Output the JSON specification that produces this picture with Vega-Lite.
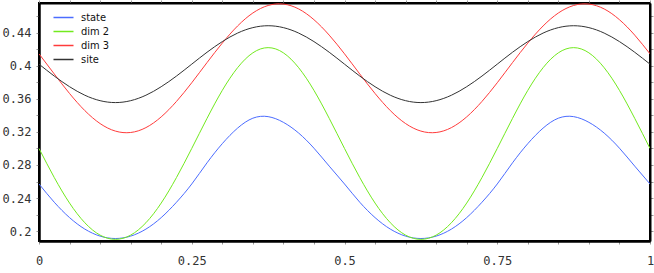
{
  "$schema": "https://vega.github.io/schema/vega-lite/v6.json",
  "width": 611,
  "height": 238,
  "autosize": {"type": "none"},
  "padding": {"left": 39, "top": 3, "right": 4, "bottom": 32},
  "background": "white",
  "config": {
    "view": {"stroke": "black", "strokeWidth": 2},
    "axis": {
      "grid": false,
      "labelFont": "DejaVu Sans Mono",
      "labelFontSize": 12,
      "labelColor": "#333",
      "tickColor": "#999",
      "tickSize": 3,
      "domainColor": "black",
      "title": null
    }
  },
  "data": {
    "values": [
      {"x": 0, "state": 0.257, "dim 2": 0.300, "dim 3": 0.4145, "site": 0.402},
      {"x": 0.025, "state": 0.2349, "dim 2": 0.2648, "dim 3": 0.3901, "site": 0.3876},
      {"x": 0.05, "state": 0.2163, "dim 2": 0.2339, "dim 3": 0.3665, "site": 0.3747},
      {"x": 0.075, "state": 0.2024, "dim 2": 0.2101, "dim 3": 0.3458, "site": 0.3644},
      {"x": 0.1, "state": 0.1939, "dim 2": 0.1951, "dim 3": 0.3301, "site": 0.3578},
      {"x": 0.125, "state": 0.191, "dim 2": 0.190, "dim 3": 0.3210, "site": 0.3555},
      {"x": 0.15, "state": 0.1939, "dim 2": 0.1951, "dim 3": 0.3193, "site": 0.3578},
      {"x": 0.175, "state": 0.2024, "dim 2": 0.2101, "dim 3": 0.3252, "site": 0.3644},
      {"x": 0.2, "state": 0.2163, "dim 2": 0.2339, "dim 3": 0.3382, "site": 0.3747},
      {"x": 0.225, "state": 0.2349, "dim 2": 0.2648, "dim 3": 0.3569, "site": 0.3876},
      {"x": 0.25, "state": 0.257, "dim 2": 0.300, "dim 3": 0.3795, "site": 0.402},
      {"x": 0.275, "state": 0.2826, "dim 2": 0.3364, "dim 3": 0.4039, "site": 0.4164},
      {"x": 0.3, "state": 0.3058, "dim 2": 0.3703, "dim 3": 0.4275, "site": 0.4293},
      {"x": 0.325, "state": 0.3246, "dim 2": 0.3977, "dim 3": 0.4482, "site": 0.4396},
      {"x": 0.35, "state": 0.3366, "dim 2": 0.4157, "dim 3": 0.4639, "site": 0.4462},
      {"x": 0.375, "state": 0.3385, "dim 2": 0.422, "dim 3": 0.4730, "site": 0.4485},
      {"x": 0.4, "state": 0.3316, "dim 2": 0.4157, "dim 3": 0.4747, "site": 0.4462},
      {"x": 0.425, "state": 0.3186, "dim 2": 0.3977, "dim 3": 0.4688, "site": 0.4396},
      {"x": 0.45, "state": 0.3003, "dim 2": 0.3703, "dim 3": 0.4558, "site": 0.4293},
      {"x": 0.475, "state": 0.2786, "dim 2": 0.3364, "dim 3": 0.4371, "site": 0.4164},
      {"x": 0.5, "state": 0.257, "dim 2": 0.300, "dim 3": 0.4145, "site": 0.402},
      {"x": 0.525, "state": 0.2349, "dim 2": 0.2648, "dim 3": 0.3901, "site": 0.3876},
      {"x": 0.55, "state": 0.2163, "dim 2": 0.2339, "dim 3": 0.3665, "site": 0.3747},
      {"x": 0.575, "state": 0.2024, "dim 2": 0.2101, "dim 3": 0.3458, "site": 0.3644},
      {"x": 0.6, "state": 0.1939, "dim 2": 0.1951, "dim 3": 0.3301, "site": 0.3578},
      {"x": 0.625, "state": 0.191, "dim 2": 0.190, "dim 3": 0.3210, "site": 0.3555},
      {"x": 0.65, "state": 0.1939, "dim 2": 0.1951, "dim 3": 0.3193, "site": 0.3578},
      {"x": 0.675, "state": 0.2024, "dim 2": 0.2101, "dim 3": 0.3252, "site": 0.3644},
      {"x": 0.7, "state": 0.2163, "dim 2": 0.2339, "dim 3": 0.3382, "site": 0.3747},
      {"x": 0.725, "state": 0.2349, "dim 2": 0.2648, "dim 3": 0.3569, "site": 0.3876},
      {"x": 0.75, "state": 0.257, "dim 2": 0.300, "dim 3": 0.3795, "site": 0.402},
      {"x": 0.775, "state": 0.2826, "dim 2": 0.3364, "dim 3": 0.4039, "site": 0.4164},
      {"x": 0.8, "state": 0.3058, "dim 2": 0.3703, "dim 3": 0.4275, "site": 0.4293},
      {"x": 0.825, "state": 0.3246, "dim 2": 0.3977, "dim 3": 0.4482, "site": 0.4396},
      {"x": 0.85, "state": 0.3366, "dim 2": 0.4157, "dim 3": 0.4639, "site": 0.4462},
      {"x": 0.875, "state": 0.3385, "dim 2": 0.422, "dim 3": 0.4730, "site": 0.4485},
      {"x": 0.9, "state": 0.3316, "dim 2": 0.4157, "dim 3": 0.4747, "site": 0.4462},
      {"x": 0.925, "state": 0.3186, "dim 2": 0.3977, "dim 3": 0.4688, "site": 0.4396},
      {"x": 0.95, "state": 0.3003, "dim 2": 0.3703, "dim 3": 0.4558, "site": 0.4293},
      {"x": 0.975, "state": 0.2786, "dim 2": 0.3364, "dim 3": 0.4371, "site": 0.4164},
      {"x": 1, "state": 0.257, "dim 2": 0.300, "dim 3": 0.4145, "site": 0.402}
    ]
  },
  "transform": [
    {"fold": ["state", "dim 2", "dim 3", "site"], "as": ["series", "v"]}
  ],
  "layer": [
    {
      "mark": {"type": "line", "interpolate": "natural", "strokeWidth": 1, "clip": true},
      "encoding": {
        "x": {
          "field": "x", "type": "quantitative",
          "scale": {"domain": [0, 1], "nice": false, "zero": false},
          "axis": {
            "orient": "bottom",
            "values": [0, 0.05, 0.1, 0.15, 0.2, 0.25, 0.3, 0.35, 0.4, 0.45, 0.5, 0.55, 0.6, 0.65, 0.7, 0.75, 0.8, 0.85, 0.9, 0.95, 1],
            "format": ".2~f",
            "labelExpr": "round(datum.value*100) % 25 == 0 ? datum.label : ''",
            "labelPadding": 11,
            "labelFlush": false,
            "domainWidth": 2.5
          }
        },
        "y": {
          "field": "v", "type": "quantitative",
          "scale": {"domain": [0.188, 0.476], "nice": false, "zero": false},
          "axis": {
            "orient": "left",
            "values": [0.2, 0.22, 0.24, 0.26, 0.28, 0.3, 0.32, 0.34, 0.36, 0.38, 0.4, 0.42, 0.44, 0.46],
            "format": ".2~f",
            "labelExpr": "round(datum.value*100) % 4 == 0 ? datum.label : ''",
            "labelPadding": 5,
            "labelFlush": false,
            "domainWidth": 2.5
          }
        },
        "color": {
          "field": "series", "type": "nominal",
          "scale": {
            "domain": ["state", "dim 2", "dim 3", "site"],
            "range": ["#4b6cff", "#72ea1e", "#ff3b3b", "#333333"]
          },
          "legend": {
            "orient": "none",
            "legendX": 17,
            "legendY": 7,
            "title": null,
            "symbolType": "M-1.5,0H1.5",
            "symbolSize": 178,
            "symbolStrokeWidth": 1.5,
            "labelFont": "DejaVu Sans Condensed",
            "labelFontSize": 11,
            "labelColor": "#111",
            "rowPadding": 1,
            "labelOffset": 10
          }
        }
      }
    },
    {
      "mark": {"type": "line", "strokeOpacity": 0, "clip": true},
      "encoding": {
        "x": {
          "field": "x", "type": "quantitative",
          "scale": {"domain": [0, 1], "nice": false, "zero": false},
          "axis": {
            "orient": "top",
            "values": [0, 0.05, 0.1, 0.15, 0.2, 0.25, 0.3, 0.35, 0.4, 0.45, 0.5, 0.55, 0.6, 0.65, 0.7, 0.75, 0.8, 0.85, 0.9, 0.95, 1],
            "labels": false,
            "domainWidth": 2
          }
        },
        "y": {
          "field": "v", "type": "quantitative",
          "scale": {"domain": [0.188, 0.476], "nice": false, "zero": false},
          "axis": {
            "orient": "right",
            "values": [0.2, 0.22, 0.24, 0.26, 0.28, 0.3, 0.32, 0.34, 0.36, 0.38, 0.4, 0.42, 0.44, 0.46],
            "labels": false,
            "domainWidth": 2
          }
        },
        "detail": {"field": "series", "type": "nominal"}
      }
    }
  ],
  "resolve": {"axis": {"x": "independent", "y": "independent"}}
}
